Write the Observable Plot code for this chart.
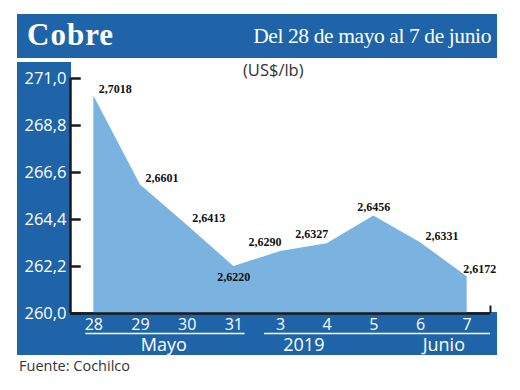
<!DOCTYPE html>
<html>
<head>
<meta charset="utf-8">
<script src="https://cdn.jsdelivr.net/npm/d3@7"></script>
<script src="https://cdn.jsdelivr.net/npm/@observablehq/plot@0.6"></script>
<style>
  html, body { margin: 0; padding: 0; background: #ffffff; }
  #wrap { position: relative; width: 520px; height: 390px; overflow: hidden; background: #fff; }
  .blue { position: absolute; background: #1f64a8; }
  #title { position: absolute; left: 27px; top: 13px; font-family: "Liberation Serif", serif; font-weight: bold; font-size: 31px; color: #fff; letter-spacing: 1px; line-height: 44px; }
  #subtitle { position: absolute; right: 29px; top: 16px; font-family: "Liberation Serif", serif; font-size: 21.5px; color: #fff; line-height: 40px; letter-spacing: -0.4px; }
  #unit { position: absolute; left: 243px; top: 59px; font-family: "Open Sans", sans-serif; font-size: 16.5px; color: #333; line-height: 22px; }
  #source { position: absolute; left: 19px; top: 356px; font-family: "Open Sans", sans-serif; font-size: 14.5px; color: #333; line-height: 20px; }
  #chart { position: absolute; left: 0; top: 0; }
</style>
</head>
<body>
<div id="wrap">
  <div class="blue" style="left:17px;top:14px;width:480px;height:44px;"></div>
  <div class="blue" style="left:17px;top:62px;width:54px;height:293px;"></div>
  <div class="blue" style="left:17px;top:312px;width:480px;height:43px;"></div>
  <div id="title">Cobre</div>
  <div id="subtitle">Del 28 de mayo al 7 de junio</div>
  <div id="unit">(US$/lb)</div>
  <div id="chart"></div>
  <div id="source">Fuente: Cochilco</div>
</div>
<script>
// ---- data ----
const days = ["28", "29", "30", "31", "3", "4", "5", "6", "7"];
const prices = [2.7018, 2.6601, 2.6413, 2.6220, 2.6290, 2.6327, 2.6456, 2.6331, 2.6172];
const yTicks = [260.0, 262.2, 264.4, 266.6, 268.8, 271.0];
const monthLabels = ["Mayo", "2019", "Junio"];
const monthLabelAt = [1.5, 4.5, 7.5];
const labelPlacement = ["ne", "ne", "ne", "s", "nw", "nw", "n", "ne", "nne"];

// ---- build ----
const data = days.map((d, i) => ({
  i, day: d, cents: prices[i] * 100,
  label: prices[i].toFixed(4).replace(".", ","),
  place: labelPlacement[i]
}));
const months = monthLabels.map((t, k) => ({text: t, at: monthLabelAt[k]}));
const underlines = [{x1: -0.17, x2: 3.24}, {x1: 3.66, x2: 8.5}];

const presets = {
  ne:  {dx: 5, dy: -7, textAnchor: "start"},
  nne: {dx: -4, dy: -8, textAnchor: "start"},
  nw:  {dx: 1, dy: -9, textAnchor: "end"},
  n:   {dx: 0, dy: -9, textAnchor: "middle"},
  s:   {dx: 0, dy: 11, textAnchor: "middle"}
};
const labelFont = {fontFamily: "Liberation Serif", fontWeight: "bold", fontSize: 12, fill: "#111"};
const dark = "#1a1a1a";

const labelMarks = Object.entries(presets).map(([k, p]) =>
  Plot.text(data.filter(d => d.place === k), {x: "i", y: "cents", text: "label", ...p, ...labelFont})
);

const chart = Plot.plot({
  width: 520,
  height: 390,
  marginLeft: 70,
  marginRight: 30,
  marginTop: 78,
  marginBottom: 77,
  style: {background: "transparent", overflow: "visible", fontFamily: "Open Sans"},
  x: {type: "linear", domain: [-0.5, 8.5], axis: null},
  y: {domain: [260, 271], axis: null},
  marks: [
    Plot.areaY(data, {x: "i", y1: 260, y2: "cents", fill: "#7ab3e0", curve: "linear"}),
    Plot.ruleX([-0.5], {y1: 260, y2: 271, stroke: dark, strokeWidth: 2.5}),
    Plot.ruleY([260], {x1: -0.5, x2: 8.5, stroke: dark, strokeWidth: 2.5}),
    Plot.ruleX([8.5], {y1: 260, y2: 260.35, stroke: dark, strokeWidth: 2}),
    Plot.ruleY(yTicks, {x1: -0.5, x2: -0.27, stroke: dark, strokeWidth: 2.5}),
    Plot.axisY(yTicks, {anchor: "left", tickSize: 0, tickPadding: 4, label: null,
      tickFormat: d => d.toFixed(1).replace(".", ","), fill: "white", fontSize: 16.5}),
    Plot.axisX(d3.range(days.length), {anchor: "bottom", tickSize: 0, tickPadding: 5, label: null,
      tickFormat: i => days[i], fill: "white", fontSize: 16}),
    Plot.ruleY(underlines, {y: () => 260, x1: "x1", x2: "x2", dy: 20, stroke: "white", strokeWidth: 1.5}),
    Plot.text(months, {x: "at", y: () => 260, text: "text", dy: 32, fill: "white", fontSize: 18}),
    ...labelMarks
  ]
});
document.getElementById("chart").appendChild(chart);
</script>
</body>
</html>
